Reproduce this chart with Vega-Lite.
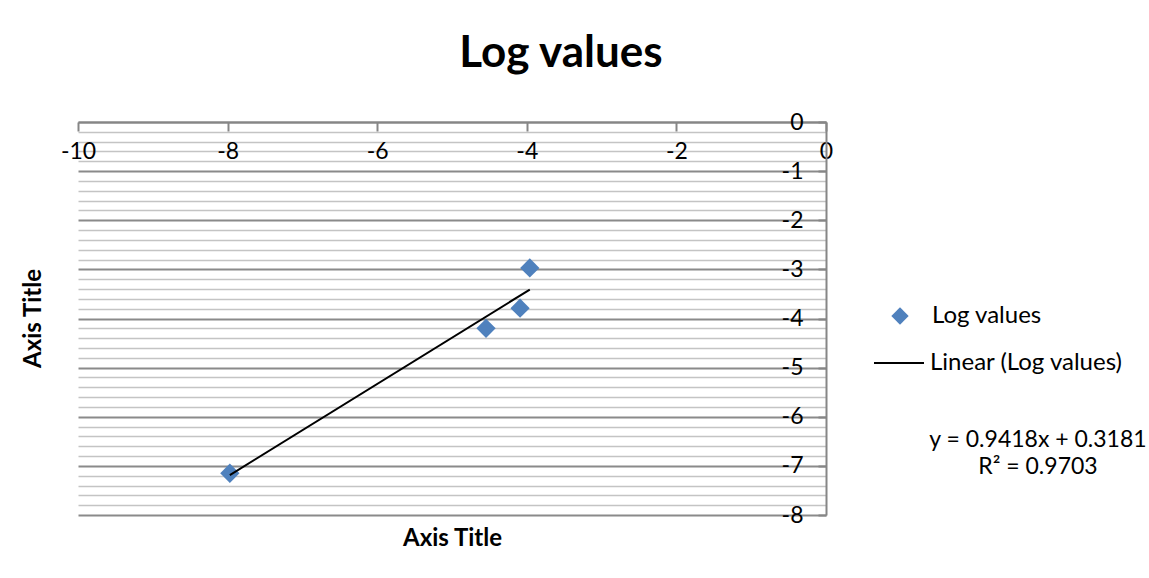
{
  "$schema": "https://vega.github.io/schema/vega-lite/v6.json",
  "width": 748,
  "height": 393,
  "autosize": {"type": "none"},
  "padding": {"left": 78, "top": 122, "right": 323, "bottom": 63},
  "background": "white",
  "config": {"font": "Lato", "view": {"stroke": null}},
  "title": {"text": "Log values", "font": "Lato", "fontSize": 44, "fontWeight": "bold", "color": "black", "anchor": "middle", "frame": "group", "dx": 109, "offset": 35},
  "encoding": {
    "x": {"field": "x", "type": "quantitative",
      "scale": {"domain": [-10, 0], "nice": false, "zero": false},
      "axis": {"orient": "bottom", "offset": -393, "values": [-10, -8, -6, -4, -2, 0], "grid": false,
        "labelExpr": "'' + datum.value",
        "tickSize": 9, "tickColor": "#868686", "tickWidth": 2,
        "domainColor": "#868686", "domainWidth": 2,
        "labelFont": "Lato", "labelFontSize": 23, "labelColor": "black", "labelPadding": 9, "labelFlush": false, "labelOverlap": false,
        "title": "Axis Title", "titleFont": "Lato", "titleFontSize": 24, "titleFontWeight": "bold", "titleColor": "black",
        "titleY": 416, "titleBaseline": "middle"}},
    "y": {"field": "y", "type": "quantitative",
      "scale": {"domain": [-8, 0], "nice": false, "zero": false},
      "axis": {"orient": "left", "offset": -748,
        "values": [0, -0.2, -0.4, -0.6, -0.8, -1, -1.2, -1.4, -1.6, -1.8, -2, -2.2, -2.4, -2.6, -2.8, -3, -3.2, -3.4, -3.6, -3.8, -4, -4.2, -4.4, -4.6, -4.8, -5, -5.2, -5.4, -5.6, -5.8, -6, -6.2, -6.4, -6.6, -6.8, -7, -7.2, -7.4, -7.6, -7.8, -8],
        "grid": true,
        "gridColor": {"condition": {"test": "abs(datum.value - round(datum.value)) < 0.001", "value": "#8a8a8a"}, "value": "#c4c4c4"},
        "gridWidth": {"condition": {"test": "abs(datum.value - round(datum.value)) < 0.001", "value": 2}, "value": 1.5},
        "tickSize": 8, "tickColor": "#868686", "tickWidth": 2,
        "tickOpacity": {"condition": {"test": "abs(datum.value - round(datum.value)) < 0.001", "value": 1}, "value": 0},
        "domainColor": "#868686", "domainWidth": 2,
        "labelExpr": "abs(datum.value - round(datum.value)) < 0.001 ? '' + round(datum.value) : ''",
        "labelOverlap": false, "labelFlush": false,
        "labelFont": "Lato", "labelFontSize": 23, "labelColor": "black", "labelPadding": 15,
        "title": "Axis Title", "titleFont": "Lato", "titleFontSize": 24, "titleFontWeight": "bold", "titleColor": "black",
        "titleX": -793, "titleY": 196, "titleBaseline": "middle", "titleAlign": "center", "titleAngle": -90}}
  },
  "layer": [
    {
      "data": {"values": [
        {"x": -7.97, "y": -7.15, "series": "Log values"},
        {"x": -4.545, "y": -4.2, "series": "Log values"},
        {"x": -4.09, "y": -3.79, "series": "Log values"},
        {"x": -3.96, "y": -2.97, "series": "Log values"}
      ]},
      "mark": {"type": "point", "filled": true, "opacity": 1, "size": 372, "shape": "diamond"},
      "encoding": {
        "fill": {"field": "series", "type": "nominal",
          "scale": {"domain": ["Log values"], "range": ["#4F81BD"]},
          "legend": {"orient": "none", "legendX": 810, "legendY": 182, "title": null,
            "symbolType": "diamond", "symbolSize": 300, "symbolFillColor": "#4F81BD", "symbolOpacity": 1,
            "labelFont": "Lato", "labelFontSize": 24, "labelColor": "black", "labelOffset": 20, "labelLimit": 400}}
      }
    },
    {
      "data": {"values": [
        {"x": -7.97, "y": -7.188, "trend": "Linear (Log values)"},
        {"x": -3.96, "y": -3.411, "trend": "Linear (Log values)"}
      ]},
      "mark": {"type": "line", "strokeWidth": 2},
      "encoding": {
        "stroke": {"field": "trend", "type": "nominal",
          "scale": {"domain": ["Linear (Log values)"], "range": ["#000000"]},
          "legend": {"orient": "none", "legendX": 795, "legendY": 215, "title": null,
            "symbolType": "stroke", "symbolSize": 2500, "symbolStrokeWidth": 2, "symbolStrokeColor": "#000000",
            "labelFont": "Lato", "labelFontSize": 24, "labelColor": "black", "labelOffset": 5, "labelLimit": 400}}
      }
    },
    {
      "data": {"values": [
        {"x": 2.834, "y": -6.48, "label": ["y = 0.9418x + 0.3181", "R² = 0.9703"]}
      ]},
      "mark": {"type": "text", "font": "Lato", "fontSize": 23, "color": "black", "align": "center", "baseline": "middle", "lineHeight": 27},
      "encoding": {
        "text": {"field": "label"}
      }
    }
  ]
}
